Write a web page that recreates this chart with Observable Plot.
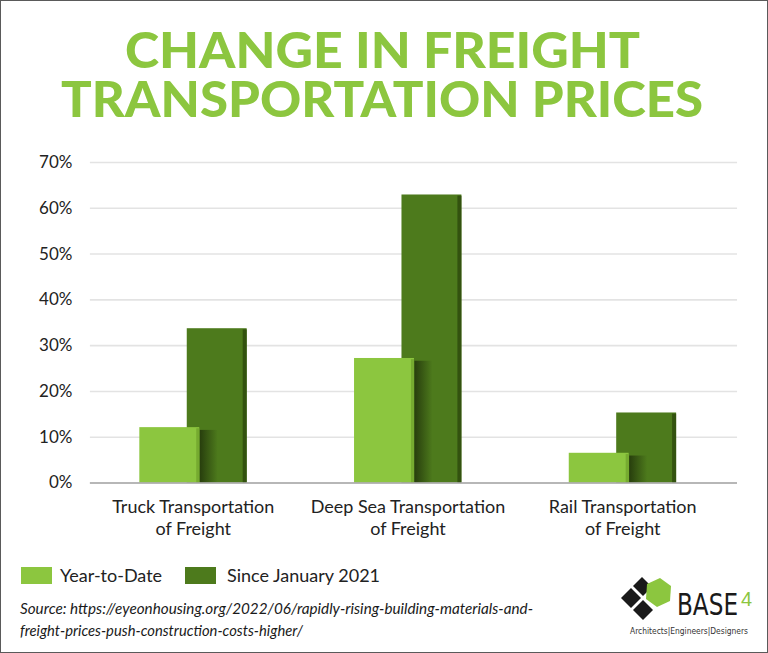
<!DOCTYPE html>
<html><head><meta charset="utf-8">
<script src="https://cdn.jsdelivr.net/npm/d3@7"></script>
<script src="https://cdn.jsdelivr.net/npm/@observablehq/plot@0.6"></script>
<style>
html,body{margin:0;padding:0;background:#fff;}
#frame{position:relative;width:766px;height:651px;border:1px solid #5a5a5a;overflow:hidden;font-family:Lato,sans-serif;color:#222;}
#title{position:absolute;left:-1px;top:-1px;}
#chart{position:absolute;left:-1px;top:139px;}
.sw{position:absolute;width:31px;height:17px;}
.lg{position:absolute;font-size:18px;line-height:1;white-space:nowrap;}
#source{position:absolute;left:-1px;top:589px;}
#logo{position:absolute;left:609px;top:574px;}
</style></head>
<body>
<div id="frame">
  <svg id="title" width="768" height="135">
    <g font-family="Lato, sans-serif" font-weight="900" font-size="48.5" fill="#8cc63f" text-anchor="middle">
      <text x="382.5" y="68" textLength="515" lengthAdjust="spacingAndGlyphs">CHANGE IN FREIGHT</text>
      <text x="382" y="117" textLength="642" lengthAdjust="spacingAndGlyphs">TRANSPORTATION PRICES</text>
    </g>
  </svg>
  <div id="chart"></div>
  <div class="sw" style="left:20px;top:566px;background:#8cc63f"></div>
  <div class="lg" style="left:59px;top:565px">Year-to-Date</div>
  <div class="sw" style="left:184px;top:566px;background:#4d7a1c"></div>
  <div class="lg" style="left:226px;top:565px">Since January 2021</div>
  <svg id="source" width="560" height="52">
    <g font-family="Lato, sans-serif" font-style="italic" font-size="15" fill="#1a1a1a">
      <text x="20" y="24" textLength="513" lengthAdjust="spacingAndGlyphs">Source: https://eyeonhousing.org/2022/06/rapidly-rising-building-materials-and-</text>
      <text x="20" y="46" textLength="283" lengthAdjust="spacingAndGlyphs">freight-prices-push-construction-costs-higher/</text>
    </g>
  </svg>
  <svg id="logo" width="156" height="76">
    <g fill="#1a1a1a">
      <polygon points="11,23 21,13 31,23 21,33"/>
      <polygon points="23,11 32,2 42,12 33,21"/>
      <polygon points="23,35 33,25 43,35 33,45"/>
    </g>
    <polygon fill="#8cc63f" points="37,9 50,3 61,11 60,26 47,32 36,24"/>
    <text x="67" y="40" font-family="'Liberation Sans Narrow','DejaVu Sans Condensed',sans-serif" font-size="30" fill="#1a1a1a" textLength="61" lengthAdjust="spacingAndGlyphs">BASE</text>
    <text x="131" y="31" font-family="'Liberation Sans Narrow',sans-serif" font-size="20" fill="#8cc63f">4</text>
    <text x="20" y="59" font-family="'Liberation Sans Narrow','DejaVu Sans Condensed',sans-serif" font-size="9.5" fill="#333" textLength="118" lengthAdjust="spacingAndGlyphs">Architects|Engineers|Designers</text>
  </svg>
</div>
<script>
const categories = ["Truck Transportation\nof Freight", "Deep Sea Transportation\nof Freight", "Rail Transportation\nof Freight"];
const seriesNames = ["Year-to-Date", "Since January 2021"];
const yearToDate = [12.1, 27.2, 6.5];
const sinceJan2021 = [33.7, 62.9, 15.3];
const yTicks = [0, 10, 20, 30, 40, 50, 60, 70];

const ytdRows = categories.map((c, i) => ({category: c, value: yearToDate[i]}));
const janRows = categories.map((c, i) => ({category: c, value: sinceJan2021[i]}));

const LIGHT = "#8cc63f", LIGHT_SIDE = "#76ab30";
const DARK = "#4d7a1c", DARK_SIDE = "#33520f";

const defs = () => {
  const d = d3.create("svg:defs");
  const g = d.append("linearGradient").attr("id", "shade").attr("x1", 0).attr("x2", 1).attr("y1", 0).attr("y2", 0);
  g.append("stop").attr("offset", "0%").attr("stop-color", "#1b2a08").attr("stop-opacity", 0.75);
  g.append("stop").attr("offset", "100%").attr("stop-color", "#1b2a08").attr("stop-opacity", 0);
  return d.node();
};

const chart = Plot.plot({
  width: 768,
  height: 405,
  marginTop: 22,
  marginBottom: 62,
  marginLeft: 90,
  marginRight: 30,
  style: {fontFamily: "Lato, sans-serif", fontSize: "16px", color: "#222", background: "transparent"},
  x: {domain: categories, paddingInner: 0.7213, paddingOuter: 0.366, align: 0.4635, label: null},
  y: {domain: [0, 70], ticks: yTicks, label: null},
  marks: [
    defs,
    Plot.gridY(yTicks, {stroke: "#e3e3e3", strokeOpacity: 1, strokeWidth: 1.6}),
    // Since January 2021 bars (behind)
    Plot.barY(janRows, {x: "category", y: "value", fill: DARK, dx: 24}),
    Plot.barY(janRows, {x: "category", y1: 0, y2: d => d.value - 0.25, fill: DARK_SIDE, dx: 24, insetLeft: 56}),
    // shadow cast by the front bar
    Plot.barY(ytdRows, {x: "category", y1: 0, y2: d => d.value - 0.6, fill: "url(#shade)", dx: 24, insetLeft: 13, insetRight: 29}),
    // Year-to-date bars (front)
    Plot.barY(ytdRows, {x: "category", y: "value", fill: LIGHT, dx: -23.5}),
    Plot.barY(ytdRows, {x: "category", y1: 0, y2: d => d.value - 0.25, fill: LIGHT_SIDE, dx: -23.5, insetLeft: 57}),
    Plot.ruleY([0], {stroke: "#a6a6a6", strokeWidth: 1.5}),
    Plot.axisY(yTicks, {tickSize: 0, tickPadding: 18, tickFormat: d => d + "%", fontSize: 17, fill: "#222"}),
    Plot.axisX({tickSize: 0, tickPadding: 14, lineHeight: 1.22, fontSize: 18, fill: "#222"})
  ]
});
document.getElementById("chart").appendChild(chart);
</script>
</body></html>
